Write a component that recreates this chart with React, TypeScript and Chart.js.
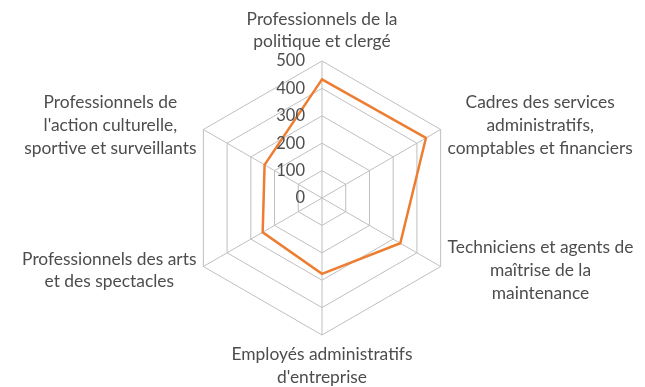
import React, { useEffect, useRef } from "react";
import { Chart, registerables } from "chart.js";

Chart.register(...registerables);

const categories: string[][] = [
  ["Professionnels de la", "politique et clergé"],
  ["Cadres des services", "administratifs,", "comptables et financiers"],
  ["Techniciens et agents de", "maîtrise de la", "maintenance"],
  ["Employés administratifs", "d'entreprise"],
  ["Professionnels des arts", "et des spectacles"],
  ["Professionnels de", "l'action culturelle,", "sportive et surveillants"],
];
const seriesValues: number[] = [433, 438, 330, 277, 250, 242];
const tickValues: number[] = [0, 100, 200, 300, 400, 500];

const LABEL_FONT = "17.4px Lato, 'Open Sans', sans-serif";
const TICK_FONT = "16.5px Lato, 'Open Sans', sans-serif";
const TEXT_COLOR = "#4d4d4d";
const LINE_H = 22.7;

const labelPlugin = {
  id: "excelLabels",
  afterDraw(chart: any) {
    const scale = chart.scales.r;
    const ctx: CanvasRenderingContext2D = chart.ctx;
    ctx.save();
    ctx.fillStyle = TEXT_COLOR;
    // tick labels
    ctx.font = TICK_FONT;
    ctx.textAlign = "right";
    ctx.textBaseline = "middle";
    tickValues.forEach((v) => {
      const d = scale.getDistanceFromCenterForValue(v);
      ctx.fillText(String(v), scale.xCenter - 17, scale.yCenter - d);
    });
    // point labels
    ctx.font = LABEL_FONT;
    ctx.textAlign = "center";
    categories.forEach((lines, i) => {
      const pos = scale.getPointPosition(i, scale.drawingArea + 8);
      const cos = Math.cos(pos.angle);
      const sin = Math.sin(pos.angle);
      const widths = lines.map((l) => ctx.measureText(l).width);
      const w = Math.max(...widths);
      const h = lines.length * LINE_H;
      let cx: number;
      let top: number;
      if (Math.abs(cos) < 0.01) {
        cx = pos.x;
        top = sin < 0 ? pos.y - h : pos.y;
      } else {
        cx = cos > 0 ? pos.x + w / 2 : pos.x - w / 2;
        top = pos.y - h / 2;
      }
      lines.forEach((l, j) => {
        ctx.fillText(l, cx, top + LINE_H * (j + 0.5));
      });
    });
    ctx.restore();
  },
};

export default function App() {
  const ref = useRef<HTMLCanvasElement | null>(null);
  useEffect(() => {
    if (!ref.current) return;
    const chart = new Chart(ref.current, {
      type: "radar",
      data: {
        labels: categories.map((c) => c.join(" ")),
        datasets: [
          {
            data: seriesValues,
            borderColor: "#ED7D31",
            borderWidth: 2.5,
            pointRadius: 0,
            pointHoverRadius: 0,
            fill: false,
            tension: 0,
          },
        ],
      },
      options: {
        responsive: false,
        animation: false,
        layout: { padding: { top: 61, bottom: 52, left: 0, right: 0 } },
        plugins: { legend: { display: false }, tooltip: { enabled: false } },
        scales: {
          r: {
            min: 0,
            max: 500,
            ticks: { stepSize: 100, display: false },
            pointLabels: { display: false },
            grid: { color: "#bfbfbf", lineWidth: 1 },
            angleLines: { color: "#bfbfbf", lineWidth: 1 },
          },
        },
      },
      plugins: [labelPlugin],
    });
    return () => chart.destroy();
  }, []);
  return (
    <div style={{ position: "absolute", left: 0, top: 0, width: 645, height: 387, background: "#fff" }}>
      <canvas ref={ref} width={645} height={387} style={{ display: "block" }} />
    </div>
  );
}
